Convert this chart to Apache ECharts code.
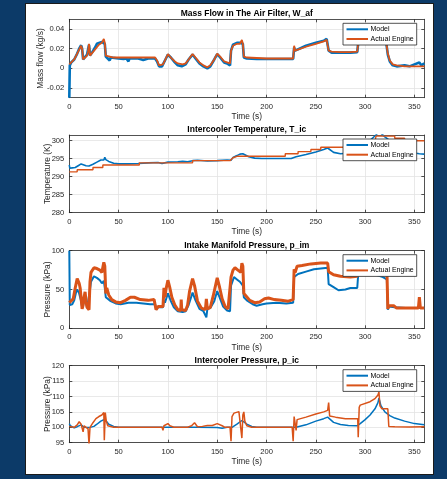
<!DOCTYPE html>
<html><head><meta charset="utf-8">
<script src="https://cdn.jsdelivr.net/npm/echarts@6/dist/echarts.min.js"></script>
<style>
html,body{margin:0;padding:0;background:#0c3a68;width:447px;height:479px;overflow:hidden;}
#panel{position:absolute;left:25px;top:3px;width:407px;height:470px;background:#fff;border:1px solid #1a1a1a;}
#c{position:absolute;left:0;top:0;width:447px;height:479px;}
</style></head><body>
<div id="panel"></div>
<div id="c"></div>
<script>
// ---- tick labels ----
const timeTicks = [0, 50, 100, 150, 200, 250, 300, 350];
const wafTicks = [-0.02, 0, 0.02, 0.04];
const ticTicks = [280, 285, 290, 295, 300];
const pimTicks = [0, 50, 100];
const picTicks = [95, 100, 105, 110, 115, 120];

const titles = ['Mass Flow in The Air Filter, W_af', 'Intercooler Temperature, T_ic', 'Intake Manifold Pressure, p_im', 'Intercooler Pressure, p_ic'];
const yNames = ['Mass flow (kg/s)', 'Temperature (K)', 'Pressure (kPa)', 'Pressure (kPa)'];
const seriesNames = ['Model', 'Actual Engine'];

// ---- Mass flow in air filter [time s, kg/s] ----
const wafModel = [[0,-0.03],[0.5,0.003],[2,0.006],[5,0.009],[8,0.015],[10,0.02],[12,0.0235],[13,0.02],[14,0.009],[16,0.011],[18,0.014],[20,0.024],[21,0.013],[23,0.016],[26,0.021],[28,0.025],[30,0.026],[33,0.027],[35,0.029],[36,0.025],[37,0.012],[39,0.011],[41,0.008],[42,0.011],[50,0.010],[55,0.0095],[58,0.010],[60,0.007],[61,0.010],[70,0.010],[75,0.0085],[76,0.010],[80,0.010],[87,0.010],[89,0.007],[91,0.002],[94,0.002],[96,0.004],[98,0.010],[100,0.014],[103,0.011],[107,0.006],[110,0.003],[114,0.002],[118,0.004],[121,0.009],[125,0.014],[128,0.010],[132,0.005],[136,0.002],[140,0.000],[143,0.002],[147,0.009],[150,0.0145],[153,0.011],[157,0.006],[160,0.005],[163,0.003],[164,0.018],[166,0.024],[170,0.026],[173,0.026],[175,0.028],[176,0.025],[177,0.011],[180,0.010],[190,0.0095],[200,0.0095],[215,0.0095],[227,0.0095],[228,0.021],[229,0.018],[230,0.019],[240,0.023],[250,0.026],[258,0.028],[261,0.030],[262,0.029],[263,0.018],[266,0.016],[275,0.016],[285,0.016],[292,0.0165],[293,0.026],[300,0.031],[310,0.035],[314,0.037],[316,0.031],[321,0.029],[323,0.014],[325,0.007],[328,0.003],[332,0.002],[340,0.003],[345,0.002],[350,0.004],[352,0.002],[355,0.006],[357,0.003],[360,0.005]];
const wafActual = [[0,0.004],[2,0.006],[5,0.009],[8,0.015],[10,0.019],[12,0.023],[13,0.02],[14,0.009],[16,0.010],[18,0.013],[19,0.017],[20,0.025],[21,0.013],[23,0.015],[26,0.019],[30,0.024],[33,0.026],[34,0.027],[35,0.030],[36,0.026],[37,0.013],[39,0.012],[45,0.011],[60,0.011],[75,0.011],[87,0.011],[89,0.008],[91,0.003],[93,0.003],[95,0.004],[97,0.008],[100,0.0145],[103,0.011],[107,0.007],[110,0.005],[115,0.004],[118,0.005],[121,0.009],[125,0.0145],[128,0.011],[132,0.006],[136,0.003],[140,0.001],[143,0.003],[147,0.009],[150,0.015],[153,0.012],[157,0.007],[160,0.006],[163,0.005],[164,0.018],[166,0.023],[170,0.025],[173,0.025],[175,0.029],[176,0.025],[177,0.012],[180,0.011],[190,0.0105],[200,0.010],[215,0.010],[227,0.010],[228,0.023],[229,0.018],[230,0.019],[240,0.022],[250,0.025],[258,0.0275],[261,0.029],[262,0.028],[263,0.018],[266,0.017],[275,0.0165],[285,0.0165],[292,0.017],[293,0.026],[300,0.030],[310,0.034],[314,0.036],[316,0.030],[321,0.029],[323,0.015],[325,0.008],[328,0.004],[332,0.003],[340,0.002],[350,0.002],[360,0.002]];

// ---- Intercooler temperature [time s, K] ----
const ticModel = [[0,293.2],[0.5,292.3],[3,292.4],[6,292.5],[9,293],[12,293.5],[14,293.2],[17,293],[20,292.9],[24,293.4],[28,294],[32,294.6],[34,295],[35,294.6],[36,295.3],[37,294.7],[40,294.2],[45,293.7],[50,293.5],[60,293.5],[70,293.6],[80,293.8],[90,293.9],[94,293.6],[95,293.9],[100,294],[110,294.1],[115,294.2],[120,294.1],[125,294.4],[130,294.5],[140,294.3],[150,294.4],[160,294.6],[164,294.5],[166,295.3],[170,295.8],[173,296.2],[175,295.9],[176,296.3],[178,296],[182,295.5],[188,295.1],[195,295],[210,295],[225,295],[230,295.5],[240,296.1],[250,296.8],[258,297.5],[262,297.9],[264,297.5],[268,296.7],[275,296.3],[285,296.5],[295,298],[305,300],[311,301.5],[314,302.5],[320,301],[330,299],[340,297.5],[350,296.5],[355,296.3],[360,296.2]];
const ticActual = [[0,291.3],[8,291.3],[8,291.9],[24,291.9],[24,292.5],[34,292.5],[34,293.2],[71,293.2],[71,293.8],[125,293.8],[125,294.4],[163,294.4],[166,295.2],[170,295.6],[219,295.6],[219,296.3],[232,296.3],[232,296.9],[245,296.9],[245,297.5],[255,297.5],[255,298.1],[285,298.1],[285,298.7],[300,298.7],[300,299.5],[310,299.5],[311,301.2],[330,301.2],[330,300.6],[340,300.6],[340,299.9],[360,299.9]];

// ---- Intake manifold pressure [time s, kPa] ----
const pimModel = [[0,100],[0.5,30],[3,31],[5,36],[7,47],[8,50],[10,45],[12,35],[13,27],[14,30],[16,42],[17,33],[18,26],[20,24],[21,50],[22,60],[25,67],[28,65],[31,62],[33,58],[34,57],[35,61],[36,52],[37,40],[39,41],[42,35],[47,32],[52,31],[60,33],[68,33],[75,32],[82,31],[87,31],[88,24],[90,27],[95,27],[96,36],[97,33],[100,45],[103,35],[106,27],[110,22],[115,21],[118,22],[121,30],[125,46],[128,36],[132,25],[136,22],[138,22],[139,14],[140,25],[143,26],[147,35],[150,48],[153,38],[156,28],[160,23],[163,22],[164,55],[167,66],[170,63],[173,60],[175,58],[176,55],[177,40],[180,36],[186,31],[190,29],[196,31],[200,32],[210,33],[220,32],[227,33],[228,66],[229,68],[232,70],[240,73],[248,76],[255,77],[262,78],[263,57],[268,53],[273,49],[280,50],[285,52],[292,52],[293,70],[300,72],[311,69],[318,66],[322,63],[323,24],[324,28],[326,27],[330,27],[345,26],[354,26],[356,27],[360,26]];
const pimActual = [[0,33],[2,34],[4,38],[6,52],[8,64],[10,58],[11,52],[13,25],[14,30],[15,40],[16,47],[17,35],[18,27],[20,24],[21,60],[22,72],[25,78],[28,77],[31,75],[33,72],[34,74],[35,85],[36,80],[37,45],[38,52],[40,43],[43,37],[47,34],[52,33],[57,36],[62,40],[66,40],[72,37],[80,36],[86,37],[87,38],[88,24],[90,28],[95,28],[96,52],[97,40],[98,50],[100,62],[102,52],[104,40],[107,30],[110,24],[113,23],[113.5,37],[114,24],[118,23],[120,30],[122,48],[125,64],[127,55],[130,35],[134,26],[138,24],[139,38],[140,25],[143,27],[146,42],[150,65],[152,55],[155,38],[158,28],[161,25],[163,24],[164,66],[166,75],[168,78],[171,75],[174,72],[175,84],[176,80],[177,45],[179,42],[183,36],[188,33],[193,34],[198,38],[202,39],[208,37],[215,36],[222,35],[227,37],[228,76],[229,72],[231,80],[236,81],[245,83],[255,84],[262,84],[263,73],[268,69],[275,67],[285,66],[292,67],[293,78],[300,85],[310,88],[316,90],[320,85],[322,80],[323,25],[324,29],[326,27],[329,29],[332,26],[345,26],[354,26],[355,40],[356,26],[360,26]];

// ---- Intercooler pressure [time s, kPa] ----
const picModel = [[0,101.2],[1,100.5],[5,99.8],[8,100.2],[12,100.8],[15,100],[20,99.9],[25,100.3],[28,101],[32,102],[36,102.6],[38,102],[40,101],[45,100.3],[50,100],[95,100],[97,99.7],[100,100],[130,100],[150,99.9],[155,99.7],[160,100],[165,100],[170,101],[175,102.2],[177,102],[180,101],[185,100.3],[190,100],[230,100],[240,100.8],[250,102],[258,102.8],[262,103.3],[264,102.7],[268,101.6],[275,100.9],[283,100.6],[292,100.5],[295,101.2],[300,102.5],[305,104],[310,106],[313,108],[314,109.5],[316,107],[320,105],[325,103.8],[330,103],[340,102],[350,101.2],[360,100.8]];
const picActual = [[0,100.3],[5,100],[8,100.8],[10,101.8],[12,101],[13,100.6],[14,98.5],[15,100.5],[17,100],[19,99.5],[20,94.5],[21,100],[24,101.5],[27,102.8],[30,103.5],[33,104],[35,104.8],[35.5,95.8],[36.5,104.8],[37.5,102],[39,100.5],[45,100],[60,100],[80,100],[94,100],[95,99],[96,100.5],[98,100],[100,101.2],[102,100.5],[106,100],[120,100],[124,100.5],[127,101.5],[130,100.2],[135,100.3],[140,100.6],[145,100.6],[150,101.2],[152,101.6],[155,100.5],[158,100],[163,100],[164,95.5],[165,103.5],[167,104.6],[172,105.1],[174,104.8],[175,96.5],[176,104],[177,105],[178,102],[180,100.5],[185,100],[200,100],[215,100],[226,100],[227,95.5],[228,103.5],[229,103.8],[230,99],[231,102.5],[240,103.3],[250,104.3],[258,105],[262,105.5],[263,108],[264,103.7],[270,103.3],[280,102.8],[290,102.8],[292.5,102.8],[293,96.8],[294,106.5],[295,107.2],[305,108.3],[310,109.3],[313,110.5],[314,111.5],[315,107],[317,106],[323,106],[324,100.3],[330,100.2],[345,100.1],[360,100.2]];

const BLUE = '#0072BD', ORANGE = '#D95319', AX = '#262626', GRIDC = '#e3e3e3';
const FONT = 'Liberation Sans, Arial, Helvetica, sans-serif';

const panels = [
  {ticks: wafTicks, min: -0.03, max: 0.05, model: wafModel, actual: wafActual, top: 19.3, h: 78.4, gap: 25, wm: 2.6, wa: 1.8},
  {ticks: ticTicks, min: 280, max: 301.5, model: ticModel, actual: ticActual, top: 135, h: 77.7, gap: 18, wm: 1.6, wa: 1.4},
  {ticks: pimTicks, min: 0, max: 100, model: pimModel, actual: pimActual, top: 250.7, h: 77.6, gap: 18, wm: 2, wa: 3},
  {ticks: picTicks, min: 95, max: 120, model: picModel, actual: picActual, top: 365.7, h: 77, gap: 18, wm: 1.5, wa: 1.5}
];

const grid = [], xAxis = [], yAxis = [], series = [], legend = [], title = [];
const L = 69.3, R = 424.3;
panels.forEach((p, i) => {
  grid.push({left: L, width: R - L, top: p.top, height: p.h});
  const tickCommon = {show: true, inside: true, length: 3, lineStyle: {color: AX, width: 0.8}};
  xAxis.push({type: 'value', gridIndex: i, min: 0, max: 360, position: 'bottom',
    name: 'Time (s)', nameLocation: 'middle', nameGap: 15, nameMoveOverlap: false,
    nameTextStyle: {fontFamily: FONT, fontSize: 8.4, color: AX},
    axisLine: {show: true, onZero: false, lineStyle: {color: AX, width: 0.8}},
    axisTick: Object.assign({customValues: timeTicks}, tickCommon),
    axisLabel: {customValues: timeTicks, fontFamily: FONT, fontSize: 7.6, color: AX, margin: 5},
    splitLine: {show: true, lineStyle: {color: GRIDC, width: 0.8}}});
  xAxis.push({type: 'value', gridIndex: i, min: 0, max: 360, position: 'top',
    axisLine: {show: true, onZero: false, lineStyle: {color: AX, width: 0.8}},
    axisTick: Object.assign({customValues: timeTicks}, tickCommon),
    axisLabel: {show: false}, splitLine: {show: false}});
  yAxis.push({type: 'value', gridIndex: i, min: p.min, max: p.max, position: 'left',
    name: yNames[i], nameLocation: 'middle', nameGap: p.gap, nameMoveOverlap: false,
    nameTextStyle: {fontFamily: FONT, fontSize: 8.4, color: AX},
    axisLine: {show: true, onZero: false, lineStyle: {color: AX, width: 0.8}},
    axisTick: Object.assign({customValues: p.ticks}, tickCommon),
    axisLabel: {customValues: p.ticks, fontFamily: FONT, fontSize: 7.6, color: AX, margin: 5},
    splitLine: {show: true, lineStyle: {color: GRIDC, width: 0.8}}});
  yAxis.push({type: 'value', gridIndex: i, min: p.min, max: p.max, position: 'right',
    axisLine: {show: true, onZero: false, lineStyle: {color: AX, width: 0.8}},
    axisTick: Object.assign({customValues: p.ticks}, tickCommon),
    axisLabel: {show: false}, splitLine: {show: false}});
  series.push({type: 'line', name: seriesNames[0], xAxisIndex: 2 * i, yAxisIndex: 2 * i,
    data: p.model, symbol: 'none', color: BLUE, lineStyle: {color: BLUE, width: p.wm}, z: 2, animation: false});
  series.push({type: 'line', name: seriesNames[1], xAxisIndex: 2 * i, yAxisIndex: 2 * i,
    data: p.actual, symbol: 'none', color: ORANGE, lineStyle: {color: ORANGE, width: p.wa}, z: 3, animation: false});
  legend.push({left: 343, top: p.top + 4, orient: 'vertical', data: seriesNames,
    icon: 'rect', backgroundColor: '#fff', borderColor: AX, borderWidth: 0.8, borderRadius: 0,
    padding: [2, 3, 2, 3.5], itemGap: 1.7, itemWidth: 21.5, itemHeight: 2,
    selectedMode: false,
    textStyle: {fontFamily: FONT, fontSize: 7, lineHeight: 8, color: '#000', padding: [0, 0, 0, -2.5]}, z: 10});
  title.push({text: titles[i], left: (L + R) / 2, textAlign: 'center', top: p.top - 10, padding: 0,
    textStyle: {fontFamily: FONT, fontSize: 8.5, fontWeight: 'bold', color: '#000'}});
});

const chart = echarts.init(document.getElementById('c'), null, {renderer: 'canvas'});
chart.setOption({backgroundColor: 'transparent', animation: false, grid, xAxis, yAxis, series, legend, title});
</script>
</body></html>
